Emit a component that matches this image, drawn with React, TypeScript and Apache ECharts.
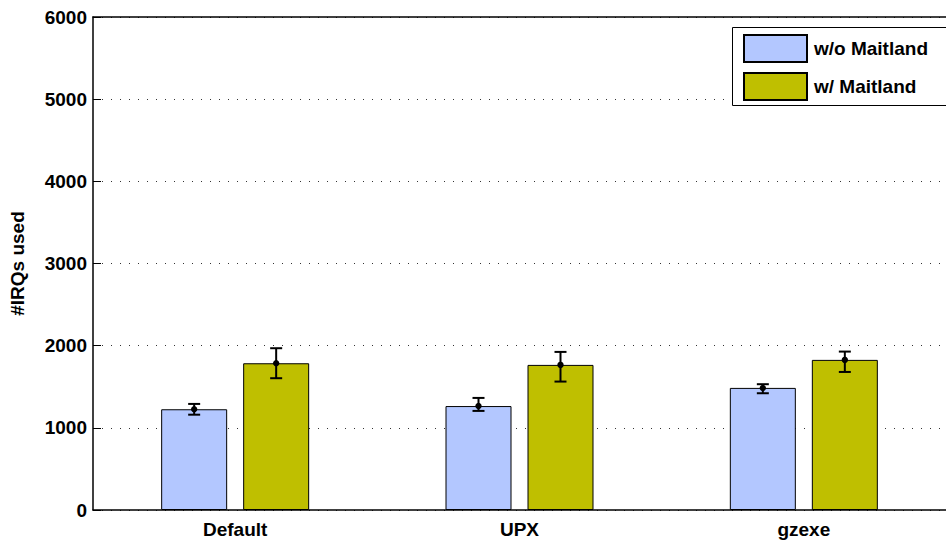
import React, { useEffect, useRef } from "react";
import * as echarts from "echarts";

const categories = ["Default", "UPX", "gzexe"];
const seriesNames = ["w/o Maitland", "w/ Maitland"];
const withoutMean = [1226, 1265, 1486];
const withoutLow = [1160, 1206, 1421];
const withoutHigh = [1291, 1364, 1531];
const withMean = [1786, 1766, 1827];
const withLow = [1604, 1563, 1680];
const withHigh = [1969, 1924, 1928];
const yTicks = [0, 1000, 2000, 3000, 4000, 5000, 6000];

const FONT = '"Liberation Sans", Arial, sans-serif';
const BAR_WIDTH = 66;
const BAR_GAP = 16;

function errorSeries(name: string, mean: number[], low: number[], high: number[], side: number) {
  const data = categories.map((_, i) => [i, mean[i], low[i], high[i]]);
  return {
    type: "custom",
    name: name + " err",
    z: 10,
    data,
    encode: { x: 0, y: [1, 2, 3] },
    renderItem: (params: any, api: any) => {
      const i = api.value(0);
      const offset = side * (BAR_WIDTH / 2 + BAR_GAP / 2);
      const pm = api.coord([i, api.value(1)]);
      const pl = api.coord([i, api.value(2)]);
      const ph = api.coord([i, api.value(3)]);
      const x = pm[0] + offset;
      const cap = 6;
      const style = { stroke: "#000", lineWidth: 2, fill: "none" };
      return {
        type: "group",
        children: [
          { type: "line", shape: { x1: x, y1: pl[1], x2: x, y2: ph[1] }, style },
          { type: "line", shape: { x1: x - cap, y1: pl[1], x2: x + cap, y2: pl[1] }, style },
          { type: "line", shape: { x1: x - cap, y1: ph[1], x2: x + cap, y2: ph[1] }, style },
          { type: "circle", shape: { cx: x, cy: pm[1], r: 3.2 }, style: { fill: "#000" } },
        ],
      };
    },
  };
}

export default function App() {
  const ref = useRef<HTMLDivElement>(null);
  useEffect(() => {
    if (!ref.current) return;
    const chart = echarts.init(ref.current, null, { renderer: "svg" });
    const labelStyle = { color: "#000", fontFamily: FONT, fontWeight: "bold" as const, fontSize: 19 };
    chart.setOption({
      animation: false,
      backgroundColor: "#fff",
      grid: { left: 93, top: 17, width: 861, height: 493 },
      // legend frame: top, left and bottom edges; it runs off the right side
      graphic: [
        {
          type: "rect",
          z: 3,
          shape: { x: 732, y: 27, width: 230, height: 78 },
          style: { fill: "#fff", stroke: null },
        },
        {
          type: "polyline",
          z: 4,
          shape: { points: [[960, 27.5], [732.5, 27.5], [732.5, 105.5], [960, 105.5]] },
          style: { fill: null, stroke: "#000", lineWidth: 1 },
        },
      ],
      legend: {
        data: seriesNames,
        orient: "vertical",
        left: 732,
        top: 27,
        padding: [7, 10, 6, 11],
        itemGap: 9,
        itemWidth: 63,
        itemHeight: 27,
        icon: "rect",
        z: 5,
        textStyle: { ...labelStyle, padding: [0, 0, 0, 2] },
      },
      xAxis: [
        {
          type: "category",
          data: categories,
          position: "bottom",
          axisLine: { lineStyle: { color: "#000", width: 1.5 } },
          axisTick: { alignWithLabel: true, inside: true, length: 9, lineStyle: { color: "#000" } },
          axisLabel: { ...labelStyle, margin: 10 },
        },
        {
          type: "category",
          data: categories,
          position: "top",
          axisLine: { lineStyle: { color: "#000", width: 1.5 } },
          axisTick: { alignWithLabel: true, inside: true, length: 9, lineStyle: { color: "#000" } },
          axisLabel: { show: false },
        },
      ],
      yAxis: {
        type: "value",
        min: yTicks[0],
        max: yTicks[yTicks.length - 1],
        interval: 1000,
        name: "#IRQs used",
        nameLocation: "middle",
        nameRotate: 90,
        nameGap: 66,
        nameTextStyle: labelStyle,
        axisLine: { show: true, lineStyle: { color: "#000", width: 1.5 } },
        axisTick: { show: true, inside: true, length: 8, lineStyle: { color: "#000" } },
        axisLabel: { ...labelStyle, margin: 6, formatter: (v: number) => String(v) },
        splitLine: { show: true, lineStyle: { color: "#333", type: [1, 8], width: 1 } },
      },
      series: [
        {
          name: seriesNames[0],
          type: "bar",
          data: withoutMean,
          barWidth: BAR_WIDTH,
          barGap: `${(BAR_GAP / BAR_WIDTH) * 100}%`,
          itemStyle: { color: "#B3C7FF", borderColor: "#000", borderWidth: 1 },
        },
        {
          name: seriesNames[1],
          type: "bar",
          data: withMean,
          barWidth: BAR_WIDTH,
          barGap: `${(BAR_GAP / BAR_WIDTH) * 100}%`,
          itemStyle: { color: "#BFBF00", borderColor: "#000", borderWidth: 1 },
        },
        errorSeries(seriesNames[0], withoutMean, withoutLow, withoutHigh, -1),
        errorSeries(seriesNames[1], withMean, withLow, withHigh, 1),
      ],
    });
    return () => chart.dispose();
  }, []);
  return <div ref={ref} style={{ width: 946, height: 542, position: "absolute", left: 0, top: 0 }} />;
}
